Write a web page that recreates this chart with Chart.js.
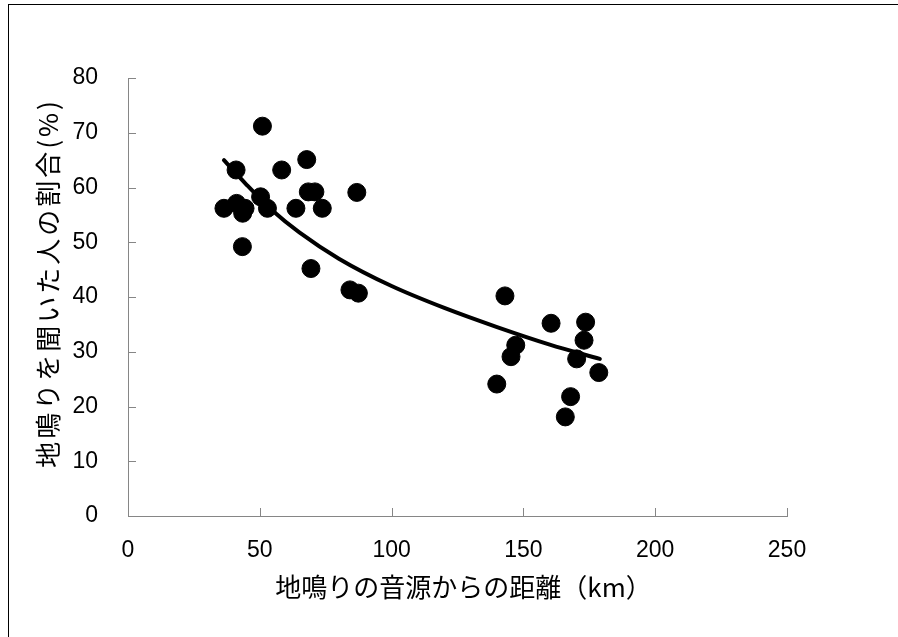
<!DOCTYPE html>
<html>
<head>
<meta charset="utf-8">
<script src="https://cdn.jsdelivr.net/npm/chart.js@4.4.1/dist/chart.umd.min.js"></script>
<style>
    html, body { margin: 0; padding: 0; background: #fff; }
    #wrap { width: 898px; height: 637px; }
</style>
</head>
<body>
<div id="wrap"><canvas id="chart"></canvas></div>
<script>
// Observed points: distance from source (km) vs. share of people who heard it (%)
const distanceKm = [36.4, 41.2, 44.4, 43.5, 50.3, 52.9, 41.0, 51.0, 58.3, 63.7,
    67.8, 68.4, 70.9, 73.7, 86.8, 43.4, 69.4, 84.2, 87.4, 143.0,
    160.5, 173.6, 173.0, 147.1, 145.3, 170.2, 178.6, 139.9, 167.9, 165.9];
const heardPct = [56.2, 57.1, 56.2, 55.3, 58.3, 56.2, 63.2, 71.2, 63.2, 56.2,
    65.1, 59.2, 59.2, 56.2, 59.1, 49.2, 45.2, 41.3, 40.7, 40.2,
    35.2, 35.4, 32.1, 31.2, 29.1, 28.7, 26.2, 24.1, 21.8, 18.1];

// Trend curve
const trendX = [36.4, 45, 55, 65, 80, 100, 120, 140, 160, 179];
const trendY = [65.0, 60.5, 55.7, 51.8, 47.0, 42.0, 38.0, 34.5, 31.3, 28.7];

const xTicks = [0, 50, 100, 150, 200, 250];
const yTicks = [0, 10, 20, 30, 40, 50, 60, 70, 80];

const axisColor = '#868686';
const tickFont = { family: '"Liberation Sans Narrow", "Arial Narrow", "Liberation Sans", sans-serif', size: 23 };
const jpFont = '"Noto Sans CJK JP", sans-serif';

// wrap a scale's title drawing to nudge it like the original
function nudgeTitle(chart, scale, dx, dy, spacing) {
    if (!scale || scale._nudged) return;
    const orig = scale.drawTitle.bind(scale);
    scale.drawTitle = function () {
        chart.ctx.save();
        chart.ctx.letterSpacing = spacing;
        chart.ctx.translate(dx, dy);
        orig();
        chart.ctx.restore();
    };
    scale._nudged = true;
}

// white background + outer frame
const framePlugin = {
    id: 'frame',
    beforeDraw(chart) {
        const ctx = chart.ctx;
        ctx.save();
        ctx.fillStyle = '#fff';
        ctx.fillRect(0, 0, chart.width, chart.height);
        ctx.strokeStyle = '#000';
        ctx.lineWidth = 1;
        ctx.strokeRect(8.5, 4.5, chart.width + 20, chart.height + 20);
        ctx.restore();

        nudgeTitle(chart, chart.scales.y, 0, -14, '3px');
        nudgeTitle(chart, chart.scales.x, 6, 0, '0px');
    }
};

// tick marks pointing into the plot, like the original
const innerTicks = {
    id: 'innerTicks',
    afterDraw(chart) {
        const ctx = chart.ctx;
        const xs = chart.scales.x;
        const ys = chart.scales.y;
        const len = 8;
        ctx.save();
        ctx.strokeStyle = axisColor;
        ctx.lineWidth = 1;
        ctx.beginPath();
        xTicks.forEach(v => {
            const px = Math.round(xs.getPixelForValue(v)) + 0.5;
            ctx.moveTo(px, ys.bottom);
            ctx.lineTo(px, ys.bottom - len);
        });
        yTicks.forEach(v => {
            const py = Math.round(ys.getPixelForValue(v)) + 0.5;
            ctx.moveTo(xs.left, py);
            ctx.lineTo(xs.left + len, py);
        });
        ctx.stroke();
        ctx.restore();
    }
};

const ctx = document.getElementById('chart');

new Chart(ctx, {
    type: 'scatter',
    data: {
        datasets: [{
            data: distanceKm.map((x, i) => ({ x: x, y: heardPct[i] })),
            backgroundColor: '#000',
            borderColor: '#000',
            pointRadius: 9,
            pointHoverRadius: 9,
            showLine: false
        }, {
            data: trendX.map((x, i) => ({ x: x, y: trendY[i] })),
            showLine: true,
            borderColor: '#000',
            borderWidth: 4,
            borderCapStyle: 'round',
            pointRadius: 0,
            cubicInterpolationMode: 'monotone',
            fill: false
        }]
    },
    options: {
        responsive: true,
        maintainAspectRatio: false,
        animation: false,
        layout: { padding: { left: 0, top: 78, right: 111, bottom: 0 } },
        plugins: {
            legend: { display: false },
            tooltip: { enabled: false }
        },
        scales: {
            x: {
                type: 'linear',
                min: 0,
                max: 250,
                afterBuildTicks: scale => { scale.ticks = xTicks.map(v => ({ value: v })); },
                afterFit: scale => { scale.height = 121; },
                grid: { display: true, drawOnChartArea: false, drawTicks: false },
                border: { color: axisColor, width: 1 },
                ticks: {
                    color: '#000',
                    padding: 21,
                    maxRotation: 0,
                    font: tickFont
                },
                title: {
                    display: true,
                    text: '地鳴りの音源からの距離（km）',
                    color: '#000',
                    padding: { top: 0, bottom: 34 },
                    font: { family: jpFont, size: 26 }
                }
            },
            y: {
                type: 'linear',
                min: 0,
                max: 80,
                afterBuildTicks: scale => { scale.ticks = yTicks.map(v => ({ value: v })); },
                afterFit: scale => { scale.width = 128; },
                grid: { display: true, drawOnChartArea: false, drawTicks: false },
                border: { color: axisColor, width: 1 },
                ticks: {
                    color: '#000',
                    padding: 30,
                    font: tickFont
                },
                title: {
                    display: true,
                    text: '地鳴りを聞いた人の割合(%)',
                    color: '#000',
                    padding: { top: 33, bottom: 0 },
                    font: { family: jpFont, size: 26 }
                }
            }
        }
    },
    plugins: [framePlugin, innerTicks]
});
</script>
</body>
</html>
